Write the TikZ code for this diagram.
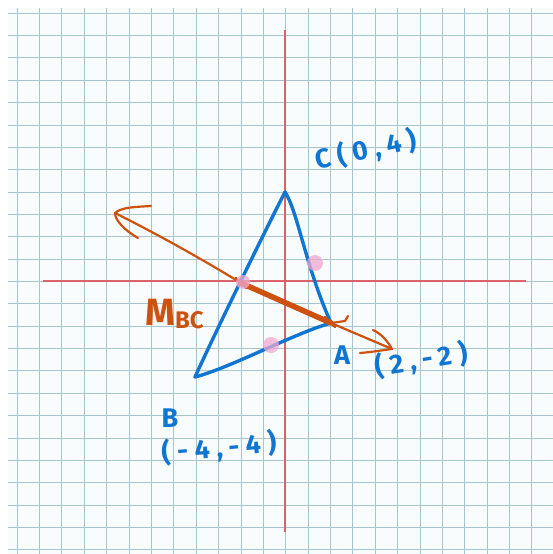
\documentclass[tikz,border=0pt]{standalone}
\usepackage{fontspec}
\newfontfamily\handfont[LetterSpace=25]{Fira Sans}
\newfontfamily\handfontM[LetterSpace=0]{Fira Sans}
\definecolor{paper}{RGB}{248,252,253}
\definecolor{gridc}{RGB}{168,196,206}
\definecolor{axisc}{RGB}{222,84,92}
\definecolor{triblue}{RGB}{16,118,210}
\definecolor{medorange}{RGB}{205,82,16}
\definecolor{pinkdot}{RGB}{240,168,208}
\tikzset{
  gridline/.style={draw=gridc, line width=1.3pt},
  axisline/.style={draw=axisc, line width=2pt, opacity=0.9},
  triside/.style={draw=triblue, line width=3.4pt, line cap=round, line join=round},
  medthick/.style={draw=medorange, line width=5.5pt, line cap=round},
  medthin/.style={draw=medorange, line width=2.2pt, line cap=round, line join=round},
  dotmark/.style={fill=pinkdot, fill opacity=0.75},
  bluelab/.style={text=triblue, font=\handfont\bfseries\fontsize{27}{29}\selectfont, inner sep=0pt},
  orangelab/.style={text=medorange, font=\handfontM\bfseries\fontsize{38}{40}\selectfont, inner sep=0pt}
}
\begin{document}
\begin{tikzpicture}[x=1pt,y=-1pt]
\useasboundingbox (0,0) rectangle (553,554);
\fill[white] (0,0) rectangle (553,554);
\fill[paper] (8,8) rectangle (553,554);
\foreach \i in {0,...,23} {
  \pgfmathsetmacro{\gx}{round(16.7+22.38*\i)+0.5}
  \draw[gridline] (\gx,8) -- (\gx,554);
}
\foreach \j in {0,...,24} {
  \pgfmathsetmacro{\gy}{round(12.7+22.36*\j)+0.5}
  \draw[gridline] (8,\gy) -- (553,\gy);
}
% axes
\coordinate (xl) at (43,281);
\coordinate (xr) at (526,281);
\coordinate (yt) at (285,30);
\coordinate (yb) at (285,532);
\draw[axisline] (xl) -- (xr);
\draw[axisline] (yt) -- (yb);
% vertices
\coordinate (C) at (285,192);
\coordinate (B) at (195,377);
\coordinate (A) at (331,323);
\coordinate (M) at (241,283);
% triangle
\draw[triside] (C) .. controls (298,212) and (305,265) .. (A);
\draw[triside] (B) .. controls (230,368) and (295,333) .. (A);
\draw[triside] (B) .. controls (215,333) and (262,237) .. (C);
% orange line with arrows
\coordinate (Lt) at (115,213);
\coordinate (Lu) at (151,206);
\coordinate (Ld) at (138,238);
\coordinate (Rt) at (392,349);
\coordinate (Ru) at (373,330);
\coordinate (Rd) at (360,353);
\draw[medthin] (Lt) .. controls (165,238) and (210,264) .. (M) -- (A) -- (Rt);
\draw[medthin] (Lt) .. controls (122,207) and (135,207) .. (Lu);
\draw[medthin] (Lt) .. controls (115,220) and (124,230) .. (Ld);
\draw[medthin] (Ru) .. controls (382,334) and (388,342) .. (Rt);
\draw[medthin] (Rd) .. controls (372,352) and (384,350) .. (Rt);
\draw[medthick] (M) -- (A);
\draw[medthin] (A) -- ++(14,-2) -- ++(3,-5);
\draw[medthin] (M) ++(-5,-5) -- ++(10,10);
\draw[medthin] (A) ++(-6,-6) -- ++(10,10);
% pink dots
\fill[dotmark] (315,263) circle (8);
\fill[dotmark] (271,345) circle (8);
\fill[dotmark] (243,282) circle (7);
% labels
\node[bluelab, rotate=12] (Clab) at (366,150) {C(0,4)};
\node[bluelab] (Blab) at (170,418) {B};
\node[bluelab, rotate=5] (Bco) at (219,448) {(-4,-4)};
\node[bluelab] (Alab) at (342,355) {A};
\node[bluelab, rotate=9] (Aco) at (421,360) {(2,-2)};
\node[orangelab, anchor=base west] (Mlab) at (145,325) {M\raisebox{-3pt}{\fontsize{24}{26}\selectfont BC}};
\end{tikzpicture}
\end{document}
